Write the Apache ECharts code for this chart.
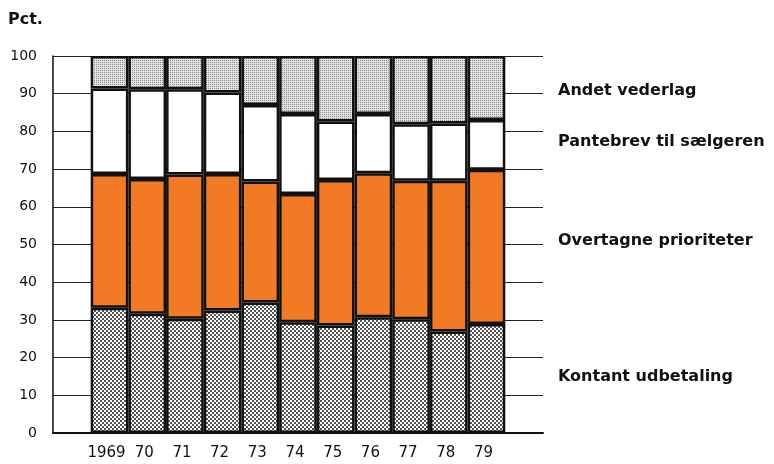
<!DOCTYPE html>
<html>
<head>
<meta charset="utf-8">
<script src="https://cdn.jsdelivr.net/npm/echarts@6/dist/echarts.min.js"></script>
<style>html,body{margin:0;padding:0;background:#fff;}#c{width:774px;height:464px;}</style>
</head>
<body>
<div id="c"></div>
<script>
// Data (percent shares)
const years = ['1969', '70', '71', '72', '73', '74', '75', '76', '77', '78', '79'];
const kontant = [33.2, 31.6, 30.3, 32.5, 34.6, 29.4, 28.5, 30.7, 30.2, 26.9, 28.9];
const overtagne = [35.5, 35.8, 38.3, 36.2, 32.1, 34.0, 38.6, 38.2, 36.7, 40.0, 40.9];
const pantebrev = [22.7, 23.8, 22.6, 21.6, 20.3, 21.2, 15.5, 15.7, 15.0, 15.2, 13.2];
const andet = [8.6, 8.8, 8.8, 9.7, 13.0, 15.4, 17.4, 15.4, 18.1, 17.9, 17.0];
const seriesNames = ['Kontant udbetaling', 'Overtagne prioriteter', 'Pantebrev til sælgeren', 'Andet vederlag'];
const yTicks = [0, 10, 20, 30, 40, 50, 60, 70, 80, 90, 100];

// Categories: one empty column on each side, as in the reference
const cats = [''].concat(years, ['']);
const pad = arr => ['-'].concat(arr, ['-']);

function makePattern(size, bg, draw) {
  const c = document.createElement('canvas');
  c.width = size; c.height = size;
  const g = c.getContext('2d');
  g.fillStyle = bg; g.fillRect(0, 0, size, size);
  draw(g);
  return { image: c, repeat: 'repeat' };
}
const coarseDots = makePattern(4, '#ffffff', g => {
  g.fillStyle = '#1e1e1e';
  const pts = [[1, 1], [3, 3], [-1, -1], [3, -1], [-1, 3]];
  pts.forEach(p => { g.beginPath(); g.arc(p[0], p[1], 1.0, 0, Math.PI * 2); g.fill(); });
});
const fineDots = makePattern(2, '#e2e2e2', g => {
  g.fillStyle = '#8c8c8c'; g.fillRect(0, 0, 1, 1);
});

const fills = [coarseDots, '#f37a24', '#ffffff', fineDots];
const values = [kontant, overtagne, pantebrev, andet];

const chart = echarts.init(document.getElementById('c'), null, { renderer: 'canvas' });
const textFont = 'DejaVu Sans';
const labelY = [377, 241, 142, 91];

chart.setOption({
  animation: false,
  backgroundColor: '#ffffff',
  grid: { left: 53, right: 231, top: 56, bottom: 31, containLabel: false },
  xAxis: {
    type: 'category',
    data: cats,
    axisLine: { show: true, lineStyle: { color: '#111', width: 2 } },
    axisTick: { show: false },
    axisLabel: { color: '#111', fontFamily: textFont, fontSize: 15, margin: 13, interval: 0, padding: [0, 6, 0, 0] },
    splitLine: { show: false }
  },
  yAxis: {
    type: 'value',
    min: yTicks[0], max: yTicks[yTicks.length - 1], interval: 10,
    axisLine: { show: true, lineStyle: { color: '#111', width: 1.5 } },
    axisTick: { show: false },
    axisLabel: { color: '#111', fontFamily: textFont, fontSize: 14, margin: 16 },
    splitLine: { show: true, lineStyle: { color: '#222', width: 1 } }
  },
  series: values.map((v, i) => ({
    name: seriesNames[i],
    type: 'bar',
    stack: 'total',
    barWidth: '100%',
    data: pad(v),
    itemStyle: { color: fills[i], borderColor: '#111', borderWidth: 2.5 }
  })),
  graphic: [
    { type: 'text', left: 8, top: 12, style: { text: 'Pct.', font: 'bold 16px "DejaVu Sans"', fill: '#111' } }
  ].concat(seriesNames.map((n, i) => ({
    type: 'text', x: 558, y: labelY[i],
    style: { text: n, font: 'bold 16px "DejaVu Sans"', fill: '#111', textVerticalAlign: 'middle' }
  })))
});
</script>
</body>
</html>
